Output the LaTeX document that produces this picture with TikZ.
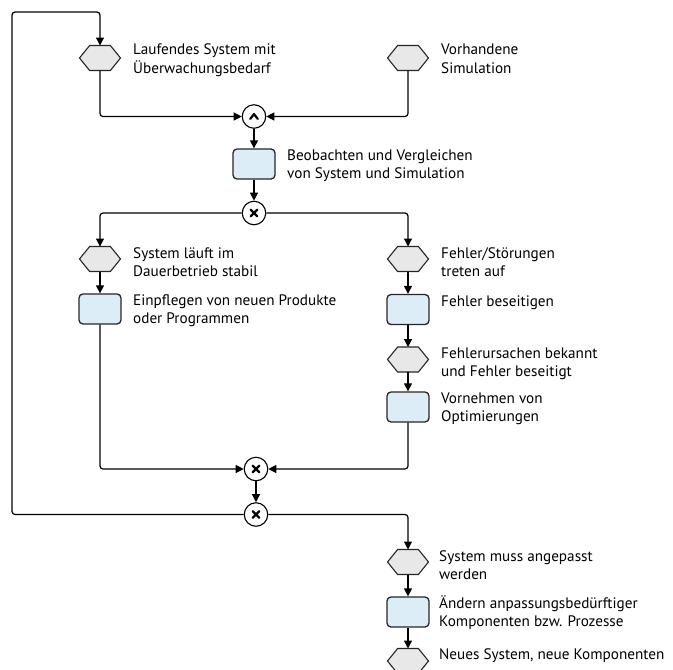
\documentclass[tikz,border=0pt]{standalone}
\usepackage{fontspec}
\setmainfont{PT Sans}
\usetikzlibrary{shapes.symbols,arrows.meta,calc}
\definecolor{evfill}{HTML}{E8E8E8}
\definecolor{fnfill}{HTML}{DDEDF8}
\newcommand\lstrut{\rule{0pt}{14pt}}
\begin{document}
\begin{tikzpicture}[x=1pt,y=-1pt,
  event/.style={signal, signal to=west and east, signal pointer angle=102,
    draw=black!85, fill=evfill, line width=1.1pt,
    minimum width=41pt, minimum height=25pt, inner sep=0pt, outer sep=0pt},
  func/.style={rectangle, rounded corners=4pt, draw=black!85, fill=fnfill,
    line width=1.3pt, minimum width=42pt, minimum height=30pt, inner sep=0pt},
  conn/.style={circle, draw=black, fill=white, line width=1.1pt,
    minimum size=23.5pt, inner sep=0pt},
  xorconn/.style={conn, path picture={
    \draw[line width=2.2pt, line cap=round]
      ($(path picture bounding box.center)+(-3.3,-3.3)$) -- ++(6.6,6.6)
      ($(path picture bounding box.center)+(-3.3,3.3)$) -- ++(6.6,-6.6);}},
  andconn/.style={conn, path picture={
    \draw[line width=2.2pt, line cap=round, line join=round]
      ($(path picture bounding box.center)+(-3.8,2.4)$) -- ++(3.8,-4.8) -- ++(3.8,4.8);}},
  flow/.style={line width=1.2pt, rounded corners=3pt, -{Triangle[length=8pt,width=8pt]}},
  lbl/.style={anchor=north west, inner sep=0pt, align=left,
    font=\fontsize{15.2}{18.5}\selectfont}]

\useasboundingbox (0,0) rectangle (673,670);

% events
\node[event] (e1) at (100,58) {};
\node[event] (e2) at (408,58) {};
\node[event] (e3) at (100,259) {};
\node[event] (e4) at (408,259) {};
\node[event] (e5) at (408,359.5) {};
\node[event] (e6) at (408,562) {};
\node[event] (e7) at (408,661) {};

% functions
\node[func] (f1) at (254,164) {};
\node[func] (f2) at (100,309) {};
\node[func] (f3) at (408,309.5) {};
\node[func] (f4) at (408,407) {};
\node[func] (f5) at (408,612) {};

% connectors
\node[andconn] (and) at (254,116.5) {};
\node[xorconn] (x1) at (254,213) {};
\node[xorconn] (x2) at (256,469) {};
\node[xorconn] (x3) at (256,514.5) {};

% loop corners on the left
\coordinate (lb) at (12,514.5);
\coordinate (lt) at (12,12);

% labels
\node[lbl] (t1) at (133,40.5) {\lstrut Laufendes System mit\\Überwachungsbedarf};
\node[lbl] (t2) at (441,40.5) {\lstrut Vorhandene\\Simulation};
\node[lbl] (t3) at (287,146) {\lstrut Beobachten und Vergleichen\\von System und Simulation};
\node[lbl] (t4) at (133,244) {\lstrut System läuft im\\Dauerbetrieb stabil};
\node[lbl] (t5) at (133,291) {\lstrut Einpflegen von neuen Produkte\\oder Programmen};
\node[lbl] (t6) at (441,244) {\lstrut Fehler/Störungen\\treten auf};
\node[lbl] (t7) at (441,292) {\lstrut Fehler beseitigen};
\node[lbl] (t8) at (441,344) {\lstrut Fehlerursachen bekannt\\und Fehler beseitigt};
\node[lbl] (t9) at (441,389) {\lstrut Vornehmen von\\Optimierungen};
\node[lbl] (t10) at (439,547) {\lstrut System muss angepasst\\werden};
\node[lbl] (t11) at (439,594) {\lstrut Ändern anpassungsbedürftiger\\Komponenten bzw. Prozesse};
\node[lbl] (t12) at (439,645) {\lstrut Neues System, neue Komponenten};

% flow
\draw[flow] (e1.south) |- (and.west);
\draw[flow] (e2.south) |- (and.east);
\draw[flow] (and) -- (f1);
\draw[flow] (f1) -- (x1);
\draw[flow] (x1.west) -| (e3.north);
\draw[flow] (x1.east) -| (e4.north);
\draw[flow] (e3) -- (f2);
\draw[flow] (f2.south) |- (x2.west);
\draw[flow] (e4) -- (f3);
\draw[flow] (f3) -- (e5);
\draw[flow] (e5) -- (f4);
\draw[flow] (f4.south) |- (x2.east);
\draw[flow] (x2) -- (x3);
\draw[flow] (x3.west) -- (lb) -- (lt) -| (e1.north);
\draw[flow] (x3.east) -| (e6.north);
\draw[flow] (e6) -- (f5);
\draw[flow] (f5) -- (e7);
\end{tikzpicture}
\end{document}
